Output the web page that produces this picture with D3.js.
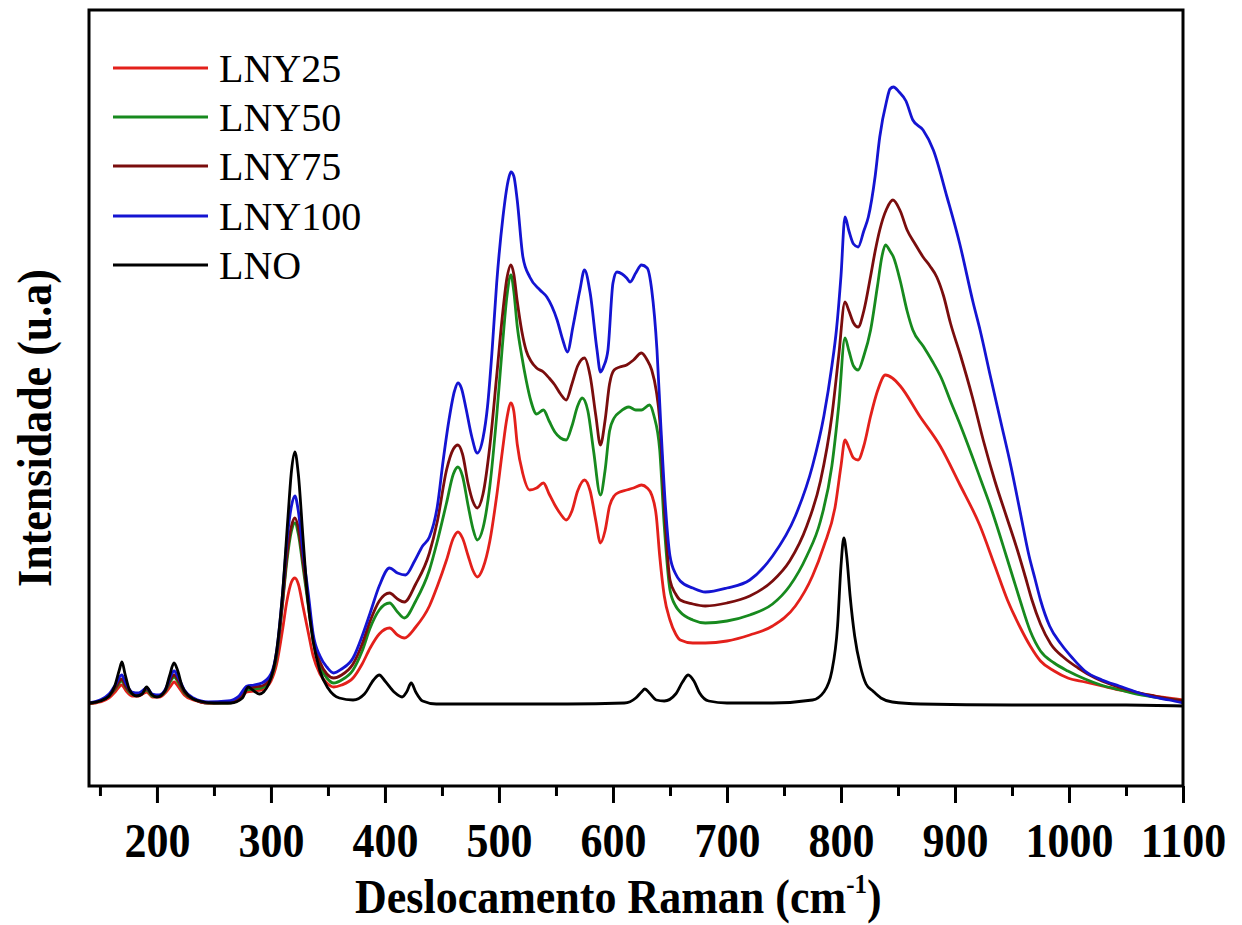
<!DOCTYPE html>
<html>
<head>
<meta charset="utf-8">
<script src="https://cdn.jsdelivr.net/npm/d3@7"></script>
<style>
  html, body { margin: 0; padding: 0; background: #fff; }
  svg { display: block; }
</style>
</head>
<body>
<svg id="chart" width="1242" height="925"></svg>
<script>
// ---------- DATA (Raman shift cm-1, intensity a.u.) ----------
const seriesNames = ["LNY25", "LNY50", "LNY75", "LNY100", "LNO"];
const seriesColors = ["#e3201b", "#178a1e", "#7a0d0d", "#1414d2", "#000000"];
const majorTicks = [200, 300, 400, 500, 600, 700, 800, 900, 1000, 1100];
const minorTicks = [150, 250, 350, 450, 550, 650, 750, 850, 950, 1050];

const lny25 = [[140,2],[150,4],[158,8],[164,15],[169,21],[173,15],[178,10],[184,10],[191,14],[196,9],[202,9],[208,14],[212,20],[215,24],[219,19],[224,11],[232,6],[245,3],[262,3],[272,6],[279,14],[285,15],[292,16],[300,25],[305,42],[310,75],[314,105],[318,124],[321,128],[324,122],[328,100],[333,72],[337,50],[343,32],[349,23],[355,19],[362,21],[372,28],[380,42],[387,58],[395,72],[404,78],[411,71],[417,68],[427,79],[439,100],[446,120],[454,146],[460,168],[464,174],[468,168],[473,150],[477,136],[481,129],[486,138],[492,165],[498,210],[503,255],[507,288],[510.5,303],[513,295],[516,262],[521,232],[527,216],[533,218],[539,223],[544,212],[549,201],[554,192],[559,186],[564,195],[569,215],[575,226],[580,215],[585,185],[589,163],[593,175],[597,200],[601,210],[606,214],[612,216],[618,218],[625,221],[630,218],[634,211],[638,190],[641,150],[645,110],[650,86],[655,72],[659,66],[670,63],[681,63],[700,65],[720,71],[740,80],[760,100],[775,130],[785,160],[795,200],[800,240],[803.5,266],[807,258],[811,248],[815,246],[820,260],[826,290],[832,315],[839,331],[845,328],[852,320],[869,290],[887,260],[904,222],[922,180],[935,140],[946,106],[957,79],[966,60],[975,45],[987,35],[999,28],[1014,24],[1029,20],[1044,16],[1059,13],[1080,9],[1100,6]];

const lny50 = [[140,2],[150,5],[158,10],[164,18],[169,25],[173,18],[178,12],[184,11],[191,16],[196,10],[202,10],[208,16],[212,25],[215,29],[219,23],[224,13],[232,7],[245,3],[262,3],[272,7],[279,16],[285,17],[292,18],[300,28],[305,50],[310,100],[314,145],[318,175],[321,183],[324,172],[328,140],[333,98],[337,65],[343,40],[349,28],[355,23],[362,26],[372,36],[380,55],[387,78],[395,96],[404,103],[411,94],[417,88],[427,105],[439,136],[446,165],[454,203],[460,232],[464,239],[468,230],[473,200],[477,178],[481,166],[486,178],[492,220],[498,290],[503,360],[507,410],[510.5,431],[513,415],[516,380],[520,350],[524,325],[528,305],[533,292],[539,296],[544,285],[549,274],[554,268],[559,266],[564,280],[569,300],[573,308],[578,295],[583,255],[589,211],[593,235],[597,275],[601,288],[606,294],[614,299],[620,296],[625,296],[632,301],[636,290],[641,256],[645,180],[650,116],[655,100],[659,94],[670,86],[681,83],[700,85],[720,91],[740,102],[755,120],[770,150],[782,185],[792,240],[798,300],[803.5,368],[807,355],[811,340],[815,336],[820,350],[826,376],[832,420],[836,450],[839,461],[843,455],[846,449],[852,425],[858,395],[863,376],[872,360],[880,345],[888,328],[896,305],[905,280],[915,250],[923,225],[931,200],[939,172],[945,150],[951,128],[957,106],[966,75],[975,55],[987,43],[999,35],[1014,27],[1028,21],[1045,16],[1063,11],[1080,8],[1100,5]];

const lny75 = [[140,2],[150,5],[158,10],[164,19],[169,27],[173,19],[178,13],[184,12],[191,17],[196,11],[202,10],[208,17],[212,27],[215,31],[219,25],[224,14],[232,7],[245,3],[262,4],[272,8],[279,18],[285,19],[292,20],[300,30],[305,52],[310,102],[314,150],[318,180],[321,188],[324,178],[328,145],[333,102],[337,68],[343,44],[349,32],[355,28],[362,31],[372,42],[380,62],[387,85],[395,105],[404,113],[411,107],[417,104],[427,122],[439,153],[446,185],[454,236],[460,257],[464,261],[468,252],[473,222],[477,205],[481,198],[486,212],[492,260],[498,330],[503,390],[507,428],[510.5,441],[513,432],[516,405],[520,375],[524,355],[528,345],[533,338],[539,334],[544,328],[549,321],[554,312],[559,306],[564,322],[569,340],[575,348],[580,330],[585,290],[589,261],[593,285],[597,322],[601,336],[606,339],[612,341],[618,346],[625,353],[630,346],[634,336],[638,315],[641,286],[645,200],[650,126],[655,112],[659,106],[670,102],[681,100],[700,103],[720,110],[740,125],[755,145],[770,180],[782,225],[792,290],[798,350],[803.5,404],[807,395],[811,383],[815,379],[820,395],[826,430],[830,455],[834,476],[840,497],[845.6,506],[852,495],[858,476],[865,462],[872,449],[878,440],[884,429],[890,410],[896,383],[905,350],[915,310],[925,265],[935,225],[945,190],[955,155],[962,128],[967.5,106],[975,82],[984,62],[996,48],[1008,38],[1023,28],[1038,21],[1055,15],[1075,10],[1100,5]];

const lny100 = [[140,3],[150,6],[158,12],[164,22],[169,31],[173,22],[178,14],[184,13],[191,18],[196,12],[202,11],[208,18],[212,30],[215,35],[219,28],[224,16],[232,8],[245,4],[262,5],[272,10],[279,20],[285,21],[292,23],[300,32],[305,55],[310,110],[314,165],[318,200],[321,210],[324,195],[328,155],[333,110],[337,72],[343,50],[349,39],[355,33],[362,37],[372,48],[380,70],[387,93],[395,120],[404,138],[411,133],[418,131],[426,145],[433,160],[439,169],[446,200],[451,245],[456,285],[461,315],[464,323],[467,318],[471,298],[476,270],[481,253],[486,268],[490,300],[494,356],[498,423],[503.5,489],[508,525],[510.5,534],[513,530],[516,506],[521,449],[527,429],[536,416],[542,409],[551,386],[556,366],[560,354],[565,380],[571,416],[575,436],[580,413],[586,356],[589,334],[592,340],[595.6,356],[600,423],[603.5,434],[608,432],[612,428],[615,424],[620,433],[625,441],[630,438],[634,416],[638.6,356],[642,280],[646,200],[650,150],[655,132],[659,125],[670,118],[681,114],[700,118],[720,126],[740,150],[760,190],[775,240],[785,290],[792,340],[796,376],[800,430],[803.5,489],[807,475],[811,462],[815,459],[820,475],[824,489],[830,530],[834,569],[840,605],[843,617],[846,619],[851,614],[857,605],[863,586],[872,576],[881,556],[893,509],[904,463],[916,403],[922,376],[931,330],[940,285],[949,240],[957,195],[965,150],[970,128],[975,106],[983,80],[993,62],[1003,48],[1014,35],[1029,26],[1044,20],[1059,14],[1074,9],[1088,6],[1100,3]];

const lno = [[140,3],[150,5],[158,10],[163,20],[167,36],[169.3,44],[172,32],[176,16],[182,10],[187,12],[191,19],[195,12],[200,9],[207,15],[211,30],[215,43],[218,36],[222,20],[228,10],[237,5],[250,3],[265,3],[275,8],[280,19],[284,16],[290,12],[298,22],[305,55],[310,110],[315,190],[318,235],[321,254],[324,232],[328,170],[332,110],[337,65],[343,35],[350,18],[360,8],[372,6],[382,12],[390,26],[395,31],[400,25],[408,14],[415,9],[419,14],[423,23],[427,14],[433,5],[445,2],[500,2],[560,2],[610,3],[620,8],[625,14],[628,17],[632,13],[638,6],[645,5],[655,12],[661,24],[666,31],[671,25],[676,13],[684,5],[700,3],[740,3],[775,6],[785,14],[792,35],[797,80],[800,140],[802.5,168],[805,150],[808,110],[812,70],[817,40],[822,22],[828,15],[835,8],[845,4],[870,2],[950,1],[1050,1],[1100,0]];

const seriesData = [lny25, lny50, lny75, lny100, lno];

// ---------- LAYOUT ----------
const svg = d3.select("#chart");
const plotLeft = 89, plotRight = 1183, plotTop = 10, plotBottom = 786;
const serif = "'Liberation Serif', 'Times New Roman', Times, serif";
const stretch = 1.09;

const x = d3.scaleLinear().domain([140.4, 1100]).range([plotLeft, plotRight]);
const y = d3.scaleLinear().domain([-80, 696]).range([plotBottom, plotTop]);

svg.append("rect").attr("width", 1242).attr("height", 925).attr("fill", "#fff");

svg.append("clipPath").attr("id", "plotclip")
  .append("rect").attr("x", plotLeft).attr("y", plotTop)
  .attr("width", plotRight - plotLeft).attr("height", plotBottom - plotTop);

const line = d3.line().x(d => x(d[0])).y(d => y(d[1])).curve(d3.curveMonotoneX);

const plot = svg.append("g").attr("clip-path", "url(#plotclip)");
seriesData.forEach((s, i) => {
  plot.append("path")
    .datum(s)
    .attr("d", line)
    .attr("fill", "none")
    .attr("stroke", seriesColors[i])
    .attr("stroke-width", 2.8)
    .attr("stroke-linejoin", "round");
});

// frame
svg.append("rect")
  .attr("x", plotLeft).attr("y", plotTop)
  .attr("width", plotRight - plotLeft).attr("height", plotBottom - plotTop)
  .attr("fill", "none").attr("stroke", "#000").attr("stroke-width", 3);

// x axis major
const gMaj = svg.append("g").attr("transform", `translate(0,${plotBottom})`)
  .call(d3.axisBottom(x).tickValues(majorTicks).tickSize(17).tickPadding(17).tickFormat(d3.format("d")));
gMaj.select(".domain").remove();
gMaj.selectAll(".tick line").attr("stroke", "#000").attr("stroke-width", 3);
gMaj.selectAll(".tick text")
  .attr("transform", `scale(1,${stretch})`)
  .attr("font-family", serif).attr("font-size", 44).attr("font-weight", "bold").attr("fill", "#000");

// x axis minor
const gMin = svg.append("g").attr("transform", `translate(0,${plotBottom})`)
  .call(d3.axisBottom(x).tickValues(minorTicks).tickSize(10).tickFormat(""));
gMin.select(".domain").remove();
gMin.selectAll(".tick line").attr("stroke", "#000").attr("stroke-width", 3);

// axis titles
const xt = svg.append("text")
  .attr("transform", `translate(355,913) scale(1,${stretch})`)
  .attr("font-family", serif).attr("font-size", 44).attr("font-weight", "bold").attr("fill", "#000");
xt.append("tspan").text("Deslocamento Raman (cm");
xt.append("tspan").attr("font-size", 25).attr("dy", -18).text("-1");
xt.append("tspan").attr("dy", 18).text(")");

svg.append("text")
  .attr("transform", `translate(51,428) rotate(-90) scale(1,${stretch})`)
  .attr("text-anchor", "middle")
  .attr("font-family", serif).attr("font-size", 44).attr("font-weight", "bold").attr("fill", "#000")
  .text("Intensidade (u.a)");

// legend
const legendY = [68, 117, 166, 216, 265];
seriesNames.forEach((name, i) => {
  svg.append("line")
    .attr("x1", 113).attr("x2", 208)
    .attr("y1", legendY[i]).attr("y2", legendY[i])
    .attr("stroke", seriesColors[i]).attr("stroke-width", 3);
  svg.append("text")
    .attr("x", 219).attr("y", legendY[i]).attr("dy", "0.34em")
    .attr("font-family", serif).attr("font-size", 40).attr("fill", "#000")
    .text(name);
});
</script>
</body>
</html>
